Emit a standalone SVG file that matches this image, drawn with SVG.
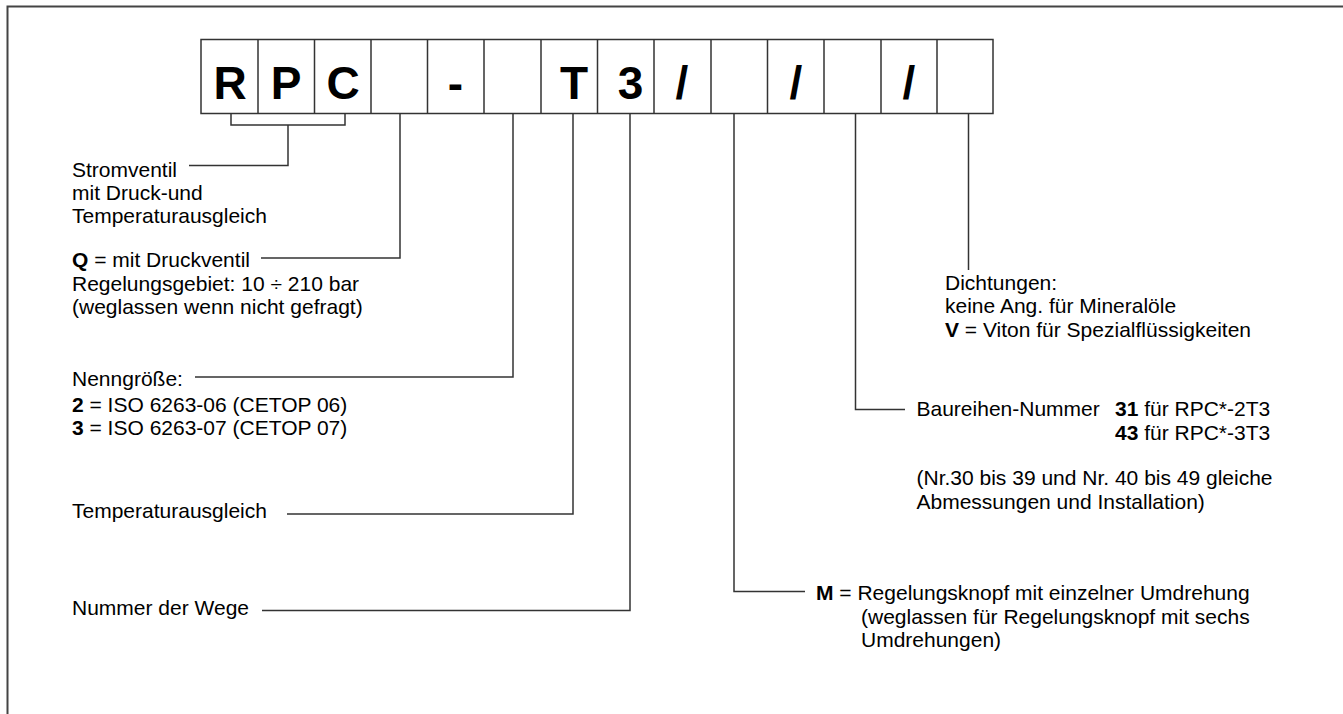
<svg xmlns="http://www.w3.org/2000/svg" width="1343" height="714" viewBox="0 0 1343 714">
<style>
.t{font-family:"Liberation Sans",Arial,sans-serif;font-size:21px;fill:#000}
.b{font-weight:bold}
.big{font-family:"Liberation Sans",Arial,sans-serif;font-size:46px;font-weight:bold;fill:#000;text-anchor:middle}
.ln{fill:none;stroke:#333;stroke-width:1.5}
.box{fill:#fff;stroke:#333;stroke-width:1.5}
</style>
<rect width="1343" height="714" fill="#fff"/>
<path d="M7.5,714 V6.5 H1343" fill="none" stroke="#444" stroke-width="2"/>
<g id="code-boxes">
<rect class="box" x="201" y="39.5" width="792" height="74"/>
<path class="ln" d="M258,39.5V113.5 M314.5,39.5V113.5 M371,39.5V113.5 M427.5,39.5V113.5 M484,39.5V113.5 M541,39.5V113.5 M597.5,39.5V113.5 M654,39.5V113.5 M711,39.5V113.5 M767.5,39.5V113.5 M824,39.5V113.5 M881,39.5V113.5 M937,39.5V113.5"/>
<text class="big" x="230" y="99">R</text>
<text class="big" x="286" y="99">P</text>
<text class="big" x="343" y="99">C</text>
<text class="big" x="455.5" y="99">-</text>
<text class="big" x="574" y="99">T</text>
<text class="big" x="630.5" y="99">3</text>
<text class="big" x="682" y="99">/</text>
<text class="big" x="796" y="99">/</text>
<text class="big" x="909" y="99">/</text>
</g>
<g id="connectors">
<path class="ln" d="M231,113.5 V125 H345 V113.5 M288,125 V165.5 H189"/>
<path class="ln" d="M400,113.5 V258 H261"/>
<path class="ln" d="M513,113.5 V377 H195"/>
<path class="ln" d="M573,113.5 V514 H287"/>
<path class="ln" d="M630,113.5 V610.5 H262"/>
<path class="ln" d="M734,113.5 V591.5 H805"/>
<path class="ln" d="M855.5,113.5 V409.5 H905"/>
<path class="ln" d="M968.5,113.5 V270"/>
</g>
<g id="label-rpc">
<text class="t" x="72" y="177">Stromventil</text>
<text class="t" x="72" y="200">mit Druck-und</text>
<text class="t" x="72" y="223">Temperaturausgleich</text>
</g>
<g id="label-q">
<text class="t" x="72" y="267"><tspan class="b">Q</tspan> = mit Druckventil</text>
<text class="t" x="72" y="290.5">Regelungsgebiet: 10 ÷ 210 bar</text>
<text class="t" x="72" y="314">(weglassen wenn nicht gefragt)</text>
</g>
<g id="label-size">
<text class="t" x="72" y="386">Nenngröße:</text>
<text class="t" x="72" y="412"><tspan class="b">2</tspan> = ISO 6263-06 (CETOP 06)</text>
<text class="t" x="72" y="435"><tspan class="b">3</tspan> = ISO 6263-07 (CETOP 07)</text>
</g>
<g id="label-temp">
<text class="t" x="72" y="518">Temperaturausgleich</text>
</g>
<g id="label-ways">
<text class="t" x="72" y="615">Nummer der Wege</text>
</g>
<g id="label-knob">
<text class="t" x="816" y="600"><tspan class="b">M</tspan> = Regelungsknopf mit einzelner Umdrehung</text>
<text class="t" x="861" y="623.5">(weglassen für Regelungsknopf mit sechs</text>
<text class="t" x="861" y="647">Umdrehungen)</text>
</g>
<g id="label-series">
<text class="t" x="916.5" y="416">Baureihen-Nummer <tspan class="b" x="1115">31</tspan> für RPC*-2T3</text>
<text class="t" x="1115" y="440"><tspan class="b">43</tspan> für RPC*-3T3</text>
<text class="t" x="916.5" y="485">(Nr.30 bis 39 und Nr. 40 bis 49 gleiche</text>
<text class="t" x="916.5" y="509">Abmessungen und Installation)</text>
</g>
<g id="label-seals">
<text class="t" x="945" y="289.5">Dichtungen:</text>
<text class="t" x="945" y="313">keine Ang. für Mineralöle</text>
<text class="t" x="945" y="336.5"><tspan class="b">V</tspan> = Viton für Spezialflüssigkeiten</text>
</g>
</svg>
